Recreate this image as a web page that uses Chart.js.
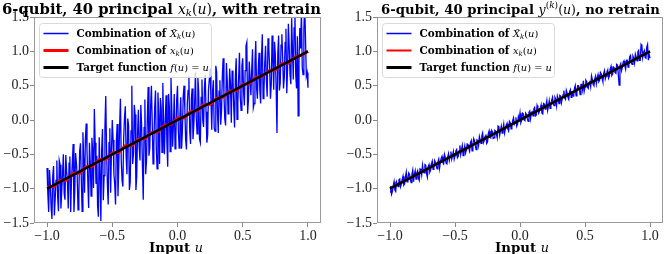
<!DOCTYPE html>
<html>
<head>
<meta charset="utf-8">
<script src="https://cdn.jsdelivr.net/npm/chart.js@4.4.0/dist/chart.umd.min.js"></script>
<style>
  body { margin: 0; background: #fff; width: 664px; height: 254px; overflow: hidden; position: relative; }
  .panel { position: absolute; top: 0; width: 332px; height: 254px; }
</style>
</head>
<body>
<div class="panel" style="left:0"><canvas id="leftChart" width="332" height="254"></canvas></div>
<div class="panel" style="left:332px"><canvas id="rightChart" width="332" height="254"></canvas></div>
<script>
// tick labels
const xTicks = [-1.0, -0.5, 0.0, 0.5, 1.0];
const yTicks = [-1.5, -1.0, -0.5, 0.0, 0.5, 1.0, 1.5];

// blue: combination of the measured features (321 samples over u in [-1, 1])
const leftBlue = [
  -0.70, -1.09, -1.34, -0.73, -0.93, -1.27, -1.44, -0.81, -0.67, -1.39, -1.14, -0.88, -0.59, -1.12, -1.33, -0.59,
  -0.65, -1.29, -1.04, -0.78, -0.50, -1.07, -1.16, -0.51, -0.75, -0.89, -1.29, -0.63, -0.53, -1.34, -0.86, -0.63,
  -0.35, -1.34, -1.04, -0.48, -0.63, -0.82, -1.31, -1.11, -0.45, -0.34, -0.84, -1.33, -0.18, -0.57, -1.06, -0.29,
  -0.05, -0.44, -0.89, -1.28, -0.33, -0.62, -1.11, -0.26, -0.45, -0.99, 0.16, -0.33, -0.93, -0.52, -1.26, -1.41,
  -0.25, -0.79, -1.47, -0.43, -0.13, -1.17, -0.81, -0.11, 0.35, -0.44, -0.94, -1.23, -0.33, -0.12, -1.06, -0.46,
  0.00, -0.29, -0.79, -0.93, -1.23, -0.32, -0.06, -1.11, -0.65, -0.09, 0.31, -0.58, -0.88, -0.97, -0.26, 0.04,
  0.20, -0.54, -0.79, 0.02, -0.08, -1.02, -0.91, -0.16, 0.50, -0.64, -0.49, 0.22, 0.08, -1.02, -0.81, -0.21,
  0.15, -0.39, -0.59, 0.22, -0.08, -0.67, -1.16, -0.11, 0.30, -0.79, -0.59, 0.02, 0.48, -0.52, -0.41, 0.19,
  0.50, -0.04, -0.64, -0.38, 0.18, 0.43, -0.41, -0.71, 0.40, 0.06, -0.64, 0.32, 0.18, -0.47, 0.54, -0.06,
  -0.50, 0.01, 0.36, -0.33, -0.68, 0.38, 0.19, -0.46, 0.61, 0.16, -0.39, -0.08, 0.38, -0.42, -0.26, 0.29,
  0.50, -0.14, -0.41, 0.07, 0.33, -0.42, -0.16, 0.34, 0.50, 0.16, -0.29, -0.43, 0.23, 0.43, 0.64, -0.16,
  -0.35, 0.31, 0.46, -0.28, -0.08, 0.23, 0.69, 0.04, -0.20, 0.61, 0.41, -0.28, -0.33, 0.33, 0.59, -0.01,
  -0.10, 0.46, 0.66, 0.12, -0.33, -0.22, 0.44, 0.59, 0.75, 0.31, -0.14, 0.42, 0.58, -0.12, -0.16, 0.79,
  0.70, 0.11, -0.19, 0.42, 0.58, -0.07, 0.14, 0.64, 0.90, 0.36, 0.01, -0.08, 0.83, 0.58, 0.09, 0.29,
  0.75, 0.51, -0.04, 0.72, 0.63, 0.18, -0.11, 0.64, 0.90, 0.01, 0.26, 0.62, 0.98, 0.33, 0.14, 0.79,
  0.90, 0.41, 0.21, 0.72, 1.08, 1.13, 0.09, 0.29, 0.85, 0.61, 0.36, 0.72, 1.03, 0.18, 0.24, 0.84,
  1.15, 0.46, 0.31, 0.72, 0.98, 0.43, 0.24, 0.89, 1.25, 0.31, 0.41, 0.82, 1.08, 0.58, 0.34, 1.19,
  1.05, 0.76, 0.31, 0.52, 1.23, 0.88, 0.44, 1.14, 0.95, 0.46, -0.19, 0.97, 1.23, 0.43, 0.54, 1.09,
  1.25, 0.91, 0.46, 0.62, 1.13, 1.33, 0.39, 0.74, 1.40, 1.06, 0.66, 0.52, 1.48, 1.03, 0.59, 1.34,
  1.60, 0.66, 0.46, 1.22, 0.06, 0.83, 1.34, 1.04, 1.60, 0.76, 0.66, 1.32, 1.68, 1.18, 0.64, 0.69,
  0.47
];
const rightBlue = [
  -1.05, -0.96, -1.08, -1.04, -0.96, -0.90, -1.02, -1.04, -0.90, -0.93, -0.97, -0.87, -0.86, -0.97, -0.93, -0.87,
  -0.82, -0.95, -0.93, -0.83, -0.76, -0.90, -0.86, -0.77, -0.79, -0.86, -0.91, -0.79, -0.73, -0.90, -0.79, -0.74,
  -0.86, -0.77, -0.74, -0.85, -0.88, -0.71, -0.72, -0.80, -0.66, -0.75, -0.77, -0.65, -0.66, -0.78, -0.83, -0.68,
  -0.65, -0.76, -0.73, -0.64, -0.60, -0.72, -0.68, -0.59, -0.62, -0.67, -0.71, -0.61, -0.57, -0.70, -0.61, -0.56,
  -0.53, -0.62, -0.64, -0.50, -0.54, -0.63, -0.64, -0.54, -0.49, -0.59, -0.53, -0.46, -0.57, -0.52, -0.46, -0.57,
  -0.52, -0.45, -0.43, -0.55, -0.53, -0.45, -0.37, -0.50, -0.43, -0.37, -0.52, -0.45, -0.38, -0.48, -0.44, -0.35,
  -0.36, -0.41, -0.45, -0.33, -0.30, -0.45, -0.36, -0.27, -0.30, -0.37, -0.43, -0.29, -0.30, -0.37, -0.24, -0.29,
  -0.34, -0.23, -0.19, -0.33, -0.30, -0.24, -0.21, -0.34, -0.32, -0.20, -0.16, -0.25, -0.26, -0.15, -0.17, -0.27,
  -0.26, -0.15, -0.16, -0.21, -0.26, -0.09, -0.10, -0.22, -0.15, -0.09, -0.19, -0.14, -0.06, -0.19, -0.13, -0.08,
  -0.05, -0.13, -0.16, -0.02, -0.04, -0.13, -0.09, -0.01, 0.03, -0.06, -0.03, 0.04, -0.09, -0.06, 0.05, 0.01,
  0.10, -0.04, -0.01, 0.10, 0.09, 0.00, -0.01, 0.10, 0.08, 0.02, -0.02, 0.11, 0.13, 0.02, 0.11, 0.12,
  0.06, 0.16, 0.18, 0.06, 0.07, 0.21, 0.17, 0.10, 0.13, 0.17, 0.22, 0.10, 0.09, 0.24, 0.23, 0.16,
  0.21, 0.28, 0.14, 0.20, 0.28, 0.17, 0.21, 0.29, 0.33, 0.23, 0.21, 0.33, 0.30, 0.21, 0.35, 0.31,
  0.24, 0.36, 0.35, 0.25, 0.31, 0.37, 0.43, 0.32, 0.30, 0.43, 0.39, 0.33, 0.30, 0.41, 0.44, 0.33,
  0.42, 0.36, 0.35, 0.46, 0.50, 0.35, 0.41, 0.50, 0.50, 0.45, 0.37, 0.52, 0.52, 0.44, 0.57, 0.42,
  0.48, 0.58, 0.56, 0.48, 0.46, 0.54, 0.57, 0.49, 0.64, 0.59, 0.52, 0.50, 0.60, 0.64, 0.53, 0.61,
  0.66, 0.56, 0.58, 0.69, 0.67, 0.61, 0.56, 0.68, 0.72, 0.60, 0.64, 0.70, 0.73, 0.61, 0.64, 0.74,
  0.78, 0.65, 0.67, 0.77, 0.76, 0.69, 0.68, 0.81, 0.80, 0.66, 0.51, 0.79, 0.82, 0.72, 0.77, 0.84,
  0.86, 0.79, 0.74, 0.87, 0.87, 0.77, 0.81, 0.92, 0.94, 0.83, 0.81, 0.93, 0.90, 0.83, 0.96, 0.92,
  0.86, 0.99, 1.01, 0.87, 0.87, 1.10, 1.08, 0.91, 0.98, 1.01, 0.91, 0.90, 1.06, 1.10, 0.87, 0.95,
  0.90
];

// red: combination of x_k(u) (41 samples)
const leftRed = [
  -0.98, -0.97, -0.88, -0.875, -0.775, -0.775, -0.68, -0.67, -0.575, -0.575,
  -0.48, -0.47, -0.375, -0.37, -0.28, -0.27, -0.185, -0.17, -0.08, -0.065,
  0.03, 0.03, 0.12, 0.135, 0.22, 0.23, 0.315, 0.335, 0.42, 0.43,
  0.515, 0.53, 0.62, 0.635, 0.715, 0.73, 0.82, 0.83, 0.915, 0.94, 1.0
];
const rightRed = [
  -1.0, -0.94, -0.9, -0.84, -0.81, -0.74, -0.71, -0.64, -0.6, -0.55,
  -0.5, -0.44, -0.41, -0.34, -0.3, -0.26, -0.2, -0.14, -0.1, -0.05,
  0.0, 0.06, 0.1, 0.16, 0.19, 0.26, 0.3, 0.36, 0.39, 0.46,
  0.5, 0.55, 0.6, 0.66, 0.69, 0.76, 0.8, 0.85, 0.9, 0.96, 1.0
];

// target f(u) = u
const targetU = [-1, 1];
const targetF = [-1, 1];

// text pieces: [text, kind]
const leftTitle = [['6-qubit, 40 principal ', 'b'], ['x', 'i'], ['k', 'sub'], ['(', 'r'], ['u', 'i'], [')', 'r'], [', with retrain', 'b']];
const rightTitle = [['6-qubit, 40 principal ', 'b'], ['y', 'i'], ['(', 'supr'], ['k', 'supi'], [')', 'supr'], ['(', 'r'], ['u', 'i'], [')', 'r'], [', no retrain', 'b']];
const legendRows = [
  [['Combination of ', 'b'], ['X\u0303', 'i'], ['k', 'sub'], ['(', 'r'], ['u', 'i'], [')', 'r']],
  [['Combination of ', 'b'], ['x', 'i'], ['k', 'sub'], ['(', 'r'], ['u', 'i'], [')', 'r']],
  [['Target function ', 'b'], ['f', 'i'], ['(', 'r'], ['u', 'i'], [') = ', 'r'], ['u', 'i']]
];
const xLabel = [['Input ', 'b'], ['u', 'i']];

function grid(n) {
  const out = [];
  for (let i = 0; i < n; i++) out.push(-1 + 2 * i / (n - 1));
  return out;
}
function pts(xs, ys) {
  return ys.map((y, i) => ({ x: xs[i], y: y }));
}

function partFont(kind, s) {
  if (kind === 'b') return `bold ${s}px "DejaVu Serif"`;
  if (kind === 'i') return `italic ${(s * 0.95).toFixed(2)}px "DejaVu Serif"`;
  if (kind === 'sub' || kind === 'supi') return `italic ${(s * 0.68).toFixed(2)}px "DejaVu Serif"`;
  if (kind === 'supr') return `${(s * 0.68).toFixed(2)}px "DejaVu Serif"`;
  return `${(s * 0.95).toFixed(2)}px "DejaVu Serif"`;
}
function partShift(kind, s) {
  if (kind === 'sub') return s * 0.2;
  if (kind === 'supi' || kind === 'supr') return -s * 0.38;
  return 0;
}
function richWidth(ctx, parts, s) {
  let w = 0;
  parts.forEach(p => { ctx.font = partFont(p[1], s); w += ctx.measureText(p[0]).width; });
  return w;
}
function fitSize(ctx, parts, target) {
  return 100 * target / richWidth(ctx, parts, 100);
}
function drawRich(ctx, parts, x, y, s, align) {
  let cx = align === 'center' ? x - richWidth(ctx, parts, s) / 2 : x;
  ctx.textAlign = 'left';
  ctx.textBaseline = 'alphabetic';
  ctx.fillStyle = '#000';
  parts.forEach(p => {
    ctx.font = partFont(p[1], s);
    ctx.fillText(p[0], cx, y + partShift(p[1], s));
    cx += ctx.measureText(p[0]).width;
  });
}

function fmt(v) {
  return v.toFixed(1).replace('-', '\u2212');
}

// frame, legend, title and axis label drawn over the chart
function decorPlugin(title, titleCx, titleW, labelCx) {
  return {
    id: 'decor',
    afterDatasetsDraw(chart) {
      const ctx = chart.ctx;
      const a = chart.chartArea;
      ctx.save();
      ctx.strokeStyle = '#999';
      ctx.lineWidth = 1;
      ctx.strokeRect(Math.round(a.left) + 0.5, Math.round(a.top) + 0.5, Math.round(a.right - a.left) - 1, Math.round(a.bottom - a.top) - 1);

      // legend box
      const bx = a.left + 5.5, by = a.top + 6.5, bw = 172, bh = 54;
      ctx.beginPath();
      ctx.roundRect(bx, by, bw, bh, 3);
      ctx.fillStyle = 'rgba(255,255,255,0.8)';
      ctx.fill();
      ctx.strokeStyle = '#d9d9d9';
      ctx.stroke();
      const ls = fitSize(ctx, legendRows[0], 119);
      chart.data.datasets.forEach((ds, i) => {
        const y = by + 10 + i * 17;
        ctx.strokeStyle = ds.borderColor;
        ctx.lineWidth = ds.legendWidth;
        ctx.beginPath();
        ctx.moveTo(bx + 4, y);
        ctx.lineTo(bx + 29, y);
        ctx.stroke();
        drawRich(ctx, legendRows[i], bx + 37, y + 3.8, ls, 'left');
      });

      const ts = fitSize(ctx, title, titleW);
      drawRich(ctx, title, titleCx, 13.5, ts, 'center');
      const xs = fitSize(ctx, xLabel, 54);
      drawRich(ctx, xLabel, labelCx, 252, xs, 'center');
      ctx.restore();
    }
  };
}

function makeChart(id, blue, red, redWidth, yAxisW, padRight, plugin) {
  const tickFont = { family: '"Liberation Serif"', size: 14 };
  return new Chart(document.getElementById(id), {
    type: 'line',
    data: {
      datasets: [
        { label: 'Combination of X\u0303k(u)', data: pts(grid(blue.length), blue), borderColor: '#0000ff', borderWidth: 1.3, legendWidth: 1.5, order: 3 },
        { label: 'Combination of xk(u)', data: pts(grid(red.length), red), borderColor: '#ff0000', borderWidth: redWidth, legendWidth: redWidth, order: 2 },
        { label: 'Target function f(u) = u', data: pts(targetU, targetF), borderColor: '#000000', borderWidth: 2.6, legendWidth: 3, order: 1 }
      ]
    },
    options: {
      responsive: false,
      animation: false,
      events: [],
      layout: { padding: { top: 17, right: padRight, left: 0, bottom: 0 } },
      elements: { point: { radius: 0 }, line: { tension: 0, borderCapStyle: 'butt', borderJoinStyle: 'miter' } },
      datasets: { line: { clip: 0 } },
      plugins: { legend: { display: false }, tooltip: { enabled: false }, title: { display: false } },
      scales: {
        x: {
          type: 'linear', min: -1.1, max: 1.1,
          afterBuildTicks: s => { s.ticks = xTicks.map(v => ({ value: v })); },
          afterFit: s => { s.height = 31; },
          ticks: { callback: fmt, font: tickFont, color: '#222', padding: 1, maxRotation: 0, autoSkip: false },
          grid: { drawOnChartArea: false, tickLength: 4, color: '#888' },
          border: { display: false }
        },
        y: {
          type: 'linear', min: -1.5, max: 1.5,
          afterBuildTicks: s => { s.ticks = yTicks.map(v => ({ value: v })); },
          afterFit: s => { s.width = yAxisW; },
          ticks: { callback: fmt, font: tickFont, color: '#222', padding: 1, autoSkip: false },
          grid: { drawOnChartArea: false, tickLength: 4, color: '#888' },
          border: { display: false }
        }
      }
    },
    plugins: [plugin]
  });
}

makeChart('leftChart', leftBlue, leftRed, 3, 34, 11, decorPlugin(leftTitle, 161.5, 319, 176));
makeChart('rightChart', rightBlue, rightRed, 2, 45, 1, decorPlugin(rightTitle, 188.5, 279, 190));
</script>
</body>
</html>
